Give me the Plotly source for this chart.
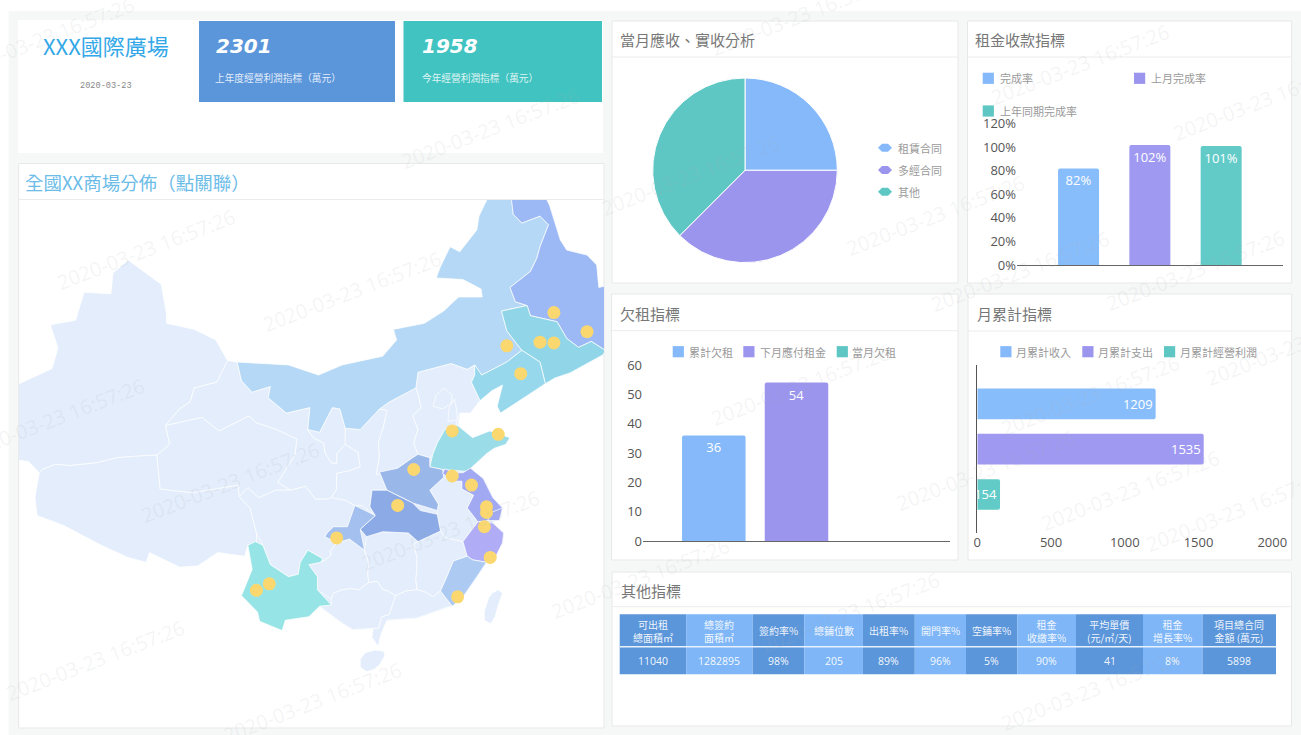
import math
import plotly.graph_objects as go

W, H = 1301, 735
CJK = "Noto Sans CJK TC"
LAT = "Open Sans"

# ---------- data ----------
pie_names = ["租賃合同", "多經合同", "其他"]
pie_values = [25, 37.5, 37.5]

rent_names = ["完成率", "上月完成率", "上年同期完成率"]
rent_values = [82, 102, 101]

arrears_names = ["累計欠租", "下月應付租金", "當月欠租"]
arrears_values = [36, 54, 0]

month_names = ["月累計收入", "月累計支出", "月累計經營利潤"]
month_values = [1209, 1535, 154]

table_headers = ["可出租<br>總面積㎡", "總簽約<br>面積㎡", "簽約率%", "總鋪位數", "出租率%", "開門率%", "空鋪率%",
                 "租金<br>收繳率%", "平均單價<br>(元/㎡/天)", "租金<br>增長率%", "項目總合同<br>金額 (萬元)"]
table_values = ["11040", "1282895", "98%", "205", "89%", "96%", "5%", "90%", "41", "8%", "5898"]

site_dots_lon = [126.8, 129.9, 125.5, 126.8, 122.4, 123.7, 117.3, 121.6, 113.7, 117.3, 119.1,
                 120.5, 120.5, 112.2, 120.3, 120.85, 106.5, 100.2, 99.0, 117.8]
site_dots_lat = [46.1, 44.85, 44.15, 44.1, 43.9, 42.0, 37.9, 37.65, 35.0, 34.5, 33.8,
                 32.1, 31.65, 32.2, 30.5, 28.0, 29.6, 25.8, 25.25, 24.7]

LIGHT = "#e3edfb"
CENTRAL_BASE = [(104.9,23.9),(107.1,22.4),(108,21.9),(109.9,22),(111.2,22.7),(114,22.9),(117.1,23.9),(118.3,24.7),(119.6,26.4),(120.5,27.6),(122,29.2),(122.1,30),
                (121.1,30.8),(122,32),(121.1,32.8),(120.2,34.3),(119,35.1),(120.5,36.2),(120.8,37.8),(119.2,37.4),(117.8,38.3),(118,39.2),(119.9,40.1),(119.1,41.4),
                (117.2,42.6),(114.1,42),(111.4,40),(108.7,38),(104.9,37.8),(102,38.3),(98.3,39),(95.5,37.9),(90.5,38.3),(90,33.5),(97.4,32.9),(98.9,29.3),(100.3,27.4),(102,26.4)]
XINJIANG = [(70,38),(76.85,41.3),(79.9,42.35),(80.45,43.75),(79.75,45.3),(82.1,45.6),(82.9,47.4),(85.4,47.3),(85.6,48.6),(87,49.4),(90.1,47.9),(90.6,46),
            (90.6,45.4),(93.2,45),(95.2,44.3),(96.3,42.9),(95.3,41.4),(93.2,41),(92.8,40),(91.8,39.5),(90.5,38.3),(90.9,36.9),(89.7,36.1),(87.5,36),(86,35.9),
            (84,35.5),(81.5,35.3),(80.2,35.4),(79,35),(78.7,34.75),(77.7,35.6),(76.85,35.7),(70,36)]
TIBET = [(78.7,34.75),(79,35),(80.2,35.4),(81.5,35.3),(84,35.5),(86,35.9),(87.5,36),(89.7,36.1),(90,33.5),(93,33.2),
         (97.3,33.8),(97.4,32.9),(98.4,32),(99,30),(99,29.2),(98.2,29),(97.9,28.1),(95.4,28.4),(93.5,27.3),(91.8,27.2),(89,28.4),(88.7,27.6),(87,28),
         (84.5,29),(81,30.6),(78.5,31.4),(78.3,32.8)]
QINGHAI = [(89.7,36.1),(90.9,36.9),(90.5,38.3),(93.9,38.9),(95.5,37.9),(98.3,39),(99,38.5),(100.9,38),(102.8,37.3),(102.6,36.1),
           (102,35.3),(101,34),(102.2,33.4),(100.8,33.4),(99.2,32.8),(98.2,33.6),(97.4,32.9),(97.3,33.8),(93,33.2),(90,33.5)]
GANSU = [(96.3,42.9),(97.2,42.8),(97.6,41.5),(98.6,40.7),(100.3,41.1),(100.1,40.3),(101.8,39.2),(104,39.6),(103.8,38),(104.3,37.4),
         (105.3,37),(105.4,36.3),(106,35.5),(106.5,35.5),(106.5,36.2),(107.3,36.9),(108.5,36.3),(108.7,35.2),(107.7,34.9),
         (106.5,34.7),(106.5,33.5),(106,32.8),(105.5,32.7),(104.5,32.7),(103.6,33.7),(102.2,33.4),(101,34),(102,35.3),(102.6,36.1),
         (102.8,37.3),(100.9,38),(99,38.5),(98.3,39),(95.5,37.9),(93.9,38.9),(90.5,38.3),(91.8,39.5),(92.8,40),(93.2,41),(95.3,41.4)]
NINGXIA = [(104.3,37.4),(103.8,38),(104.9,37.8),(106.1,39.6),(106.8,39.5),(107.3,38.1),(107.3,36.9),(106.5,36.2),(106.5,35.5),(106,35.5),(105.4,36.3),(105.3,37)]
SHAANXI = [(106.5,33.5),(106.5,34.7),(107.7,34.9),(108.7,35.2),(108.5,36.3),(107.3,36.9),(107.3,38.1),(108.7,38),(110.5,39.5),(111.2,39.4),
           (110.9,38.3),(110.4,37),(110.5,36),(110.2,34.6),(110.5,34.8),(111.2,33.4),(109.8,33.4),(109.6,32.1),(110.1,31.4),
           (108.9,32.2),(108.2,32.2),(107.3,32.6),(106,32.8)]
SHANXI = [(110.2,34.6),(111.2,34.8),(112.2,35.1),(113.6,35.9),(114.1,36.15),(113.7,37),(114.1,38),(113.6,39),(114.4,39.6),(114.1,40.6),
          (113.9,41),(111.4,40),(110.5,39.5),(111.2,39.4),(110.9,38.3),(110.4,37),(110.5,36)]
HEBEI = [(113.9,41),(114.1,42.1),(117.2,42.7),(118.7,42.3),(119.4,42.6),(119.4,41.9),(119.1,41.4),(119.9,40.1),(119,39.2),(118,39.2),(117.7,38.5),
         (117.8,38.3),(116.6,38),(115.9,37),(115.5,36.2),(115.2,35.9),(114.1,36.15),(113.7,37),(114.1,38),(113.6,39),(114.4,39.6),(114.1,40.6)]
BEIJING = [(115.5,39.7),(116.4,39.5),(117.2,39.9),(117.3,40.5),(116.5,41),(115.8,40.5)]
TIANJIN = [(116.9,38.6),(117.8,38.7),(117.7,39.5),(117.5,40.2),(117,39.6)]
SICHUAN = [(97.4,32.9),(98.2,33.6),(99.2,32.8),(100.8,33.4),(102.2,33.4),(103.6,33.7),(104.5,32.7),(105.5,32.7),(106,32.8),(107.3,32.6),(108.4,32.1),
           (108.2,32.2),(107.5,30.5),(106.2,30.5),(105.6,30),(105.4,29.7),(106.5,29.2),(105.9,28.5),(106,28.2),(105.3,27.7),(104.4,27.4),
           (103.9,27.4),(105,27.6),(105.2,27.9),(103.8,28.6),(103.1,27.6),(102.9,26.6),(102,26.4),(100.3,27.4),(99.6,29),(99,30),(98.4,32)]
GUIZHOU = [(103.9,27.4),(104.7,26.4),(104.7,25.3),(106,24.5),(106.2,25),(107,25.3),(107.9,25.4),(108.6,25.3),(109.5,25.9),(109.4,26.7),
           (109.5,27.5),(109.1,28.6),(107.7,29.5),(106.5,29.2),(105.9,28.5),(106,28.2),(105.3,27.7)]
HUNAN = [(109.5,25.9),(110.3,26),(110.8,25.3),(111.3,25.2),(112,24.8),(113,25.2),(114,25.3),(113.9,26.2),(114,27),(114,28),(113.7,29.1),(114.1,29.3),(113.2,30),
         (110.8,30.1),(109.3,29.7),(109.1,28.6),(109.5,27.5),(109.4,26.7)]
JIANGXI = [(114,25.3),(114.8,25.1),(115.5,24.7),(116.2,25.2),(116.8,26.4),(117.4,27.7),(118.7,28.1),(118.3,29.3),(116.7,29.6),(116.2,30.15),(114.1,29.3),
           (113.7,29.1),(114,28),(114,27),(113.9,26.2)]
ANHUI = [(116.4,34.4),(117.4,34.1),(118.2,34.1),(118.2,33.5),(119.3,33),(118.7,32),(119.7,30.9),(118.3,29.3),(116.7,29.6),(116.2,30.15),(115.9,31.5),(115.9,31.8),
         (116,32.3),(115.2,33.4)]
GUANGDONG = [(109.9,22),(109.8,21.2),(110.4,20.4),(110.6,21.4),(111.2,22.7),(114,22.9),(117.1,23.9),(117.3,23.9),(116.2,25.2),(115.5,24.7),(114.8,25.1),(114,25.3),
             (113,25.2),(112,24.8),(111.7,24),(111.4,23.2),(110.7,23),(110.4,22)]
GUANGXI = [(104.9,23.9),(106,24),(106,24.5),(106.2,25),(107,25.3),(107.9,25.4),(108.6,25.3),(109.5,25.9),(110.3,26),(110.8,25.3),(111.3,25.2),
           (112,24.8),(111.7,24),(111.4,23.2),(110.7,23),(110.4,22),(109.9,22),(108,21.9),(107.1,22.4)]
HAINAN = [(108.7,19.3),(109.2,19.9),(110.1,20.1),(110.9,20),(111,19.6),(110.5,18.8),(110,18.4),(109.3,18.2),(108.7,18.6)]
TAIWAN = [(121,25),(121.6,25.3),(122,25),(121.6,24),(121.3,23),(120.9,22.4),(120.3,22.7),(120.3,23.5),(120.7,24.6)]

INNER_MONGOLIA = [(97.2,42.8),(102,42.6),(104.8,41.9),(107,42.6),(110.8,43.2),(112.1,44.3),(111.8,45),(114.7,45.4),(116.5,46.2),(117.9,47.1),(120.1,47.1),
                  (120,47.6),(118.3,48.2),(115.8,48.3),(116.2,49),(117.1,50.2),(118,49.9),(119.6,51.2),(119.8,52),(121,53.5),(123,53.5),(122.9,52.7),(123,52.1),
                  (123.8,51.6),(125.5,52),(126.3,51.5),(125.5,50.2),(125.2,49.5),(124.6,48.7),(122.7,47.7),(123.2,46.8),(124.3,46.55),(123.2,46.4),(121.9,46.2),
                  (122.4,44.9),(123.8,43.6),(122.4,42.8),(120.05,41.9),(119.4,42.6),(118.7,42.3),(117.2,42.7),(114.1,42.1),(113.9,41),(111.4,40),(110.5,39.5),
                  (108.7,38),(107.3,38.1),(106.8,39.5),(106.1,39.6),(104.9,37.8),(103.8,38),(104,39.6),(101.8,39.2),(100.1,40.3),(100.3,41.1),(98.6,40.7),(97.6,41.5)]
HEILONGJIANG = [(122.7,53.6),(125.6,53.6),(126.4,52.6),(127.4,50.6),(128,50),(129.9,49.7),(130.8,49.1),(131,47.7),(134.7,48.3),(133.1,45.1),(131.6,44.8),
                (131.6,43.6),(130.3,44.2),(129.1,43.8),(128,44.4),(127.1,45.5),(124.6,45.9),(124.3,46.55),(123.2,46.8),(122.7,47.7),(124.6,48.7),(125.2,49.5),
                (125.5,50.2),(126.3,51.5),(125.5,52),(123.8,51.6),(123,52.1),(122.9,52.7)]
JILIN = [(121.9,46.2),(123.2,46.4),(124.3,46.55),(124.6,45.9),(127.1,45.5),(128,44.4),(129.1,43.8),(130.3,44.2),(131.6,43.6),(131.4,43.3),(128.3,42.05),
         (126.9,41.7),(126,41.3),(125.5,42.8),(123.8,43.6),(122.4,44.9)]
LIAONING = [(123.8,43.6),(122.4,42.8),(120.05,41.9),(119.4,42.6),(119.4,41.9),(119.1,41.4),(119.9,40.1),(121,40.8),(122,41.2),(121.5,39.7),(121.8,39.2),(126,41.3),(125.5,42.8)]
SHANDONG = [(115.5,36.2),(115.9,37),(116.6,38),(117.8,38.3),(119.2,37.4),(120.8,37.9),(122.7,37.4),(122.3,36.9),(121.2,36.6),(120.5,36.2),(118.7,34.85),(116.4,35),(115.2,35.2)]
HENAN = [(110.5,34.8),(112.2,35.1),(113.6,35.9),(114.1,36.15),(115.2,35.9),(115.2,35.2),(116.4,35),(116.5,34.4),(115.2,33.4),(116,32.3),(115.9,31.8),(113.6,32.4),(111.2,33.4)]
HUBEI = [(109.8,33.4),(111.2,33.4),(113.6,32.4),(114.3,31.8),(115.9,31.5),(116.2,30.15),(114.1,29.3),(113.2,30),(110.8,30.1),(109.3,29.7),(108.7,30.3),(110.1,31.4),(109.6,32.1)]
CHONGQING = [(105.4,29.7),(105.6,30),(106.2,30.5),(107.5,30.5),(108.2,32.2),(110.1,31.4),(108.7,30.3),(109.1,28.6),(107.7,29.5),(106.5,29.2)]
YUNNAN = [(98.2,29),(98.9,29.3),(99.6,29),(100.3,27.4),(102,26.4),(102.9,26.6),(103.1,27.6),(103.8,28.6),(105.2,27.9),(105,27.6),(103.9,27.4),(104.7,26.4),(104.7,25.3),
          (106,24),(104.9,23.9),(103.9,23),(101.7,22.7),(101.4,21.8),(99.3,22.6),(99.1,23.4),(97.6,24.8),(98.6,27)]
JIANGSU = [(116.4,34.7),(116.6,35.05),(117.5,34.75),(118.3,34.75),(119,35.1),(120.2,34.3),(121.1,32.8),(122,32),(120.6,31),(119.7,30.9),(118.7,32),(119.3,33),(118.2,33.5),(118.2,34.1),(117.4,34.1)]
SHANGHAI = [(120.6,31),(121.1,31.7),(122,32),(121.7,31)]
ZHEJIANG = [(119.7,30.9),(118.3,29.3),(118.7,28.1),(119.2,27.8),(120.5,27.6),(121.1,27.6),(122,29.2),(122.1,30),(121.1,30.8)]
FUJIAN = [(118.7,28.1),(117.4,27.7),(116.8,26.4),(116.2,25.2),(117.3,23.9),(118.3,24.7),(119.6,26.4),(120.5,27.6),(119.2,27.8)]

provinces = [
    (CENTRAL_BASE, LIGHT),
    (XINJIANG, LIGHT), (TIBET, LIGHT), (QINGHAI, LIGHT), (GANSU, LIGHT), (NINGXIA, LIGHT), (SHAANXI, LIGHT), (SHANXI, LIGHT),
    (HEBEI, LIGHT), (BEIJING, LIGHT), (TIANJIN, LIGHT), (SICHUAN, LIGHT), (GUIZHOU, LIGHT), (HUNAN, LIGHT), (JIANGXI, LIGHT),
    (ANHUI, LIGHT), (GUANGDONG, LIGHT), (GUANGXI, LIGHT), (HAINAN, LIGHT), (TAIWAN, LIGHT),
    (INNER_MONGOLIA, "#b4d8f5"), (HEILONGJIANG, "#9cb9f5"), (JILIN, "#90d6e8"), (LIAONING, "#97d8ec"), (SHANDONG, "#9adde9"),
    (HENAN, "#9ab7ea"), (HUBEI, "#8caae6"), (CHONGQING, "#a4c0ef"), (YUNNAN, "#97e4e6"), (JIANGSU, "#a0a9f2"), (SHANGHAI, "#a0a9f2"),
    (ZHEJIANG, "#b0acf5"), (FUJIAN, "#adcbf2"),
]

watermarks = [(45,38),(146,250),(352,292),(490,128),(55,418),(230,482),(450,530),(95,660),(312,702),(690,175),(935,215),(1080,65),
              (1262,100),(800,15),(1195,270),(800,385),(640,578),(1020,272),(1130,490),(1235,512),(1090,395),(850,612),(1090,690),(985,470),(1295,345)]

# ---------- helpers ----------
def mx(x): return x / W
def my(y): return 1 - y / H
def merc(lat): return math.degrees(math.log(math.tan(math.radians(45 + lat / 2))))

shapes, annos = [], []
def rect(x0, y0, x1, y1, fill, line=None, layer="below"):
    shapes.append(dict(type="rect", xref="paper", yref="paper", x0=mx(x0), x1=mx(x1), y0=my(y0), y1=my(y1), fillcolor=fill,
                       line=dict(color=line or fill, width=1 if line else 0), layer=layer))
def hline(x0, x1, y, color="#ececec"):
    shapes.append(dict(type="line", xref="paper", yref="paper", x0=mx(x0), x1=mx(x1), y0=my(y), y1=my(y), line=dict(color=color, width=1), layer="below"))
def text(x, y, s, size=12, color="#666", font=CJK, anchor="left", **kw):
    annos.append(dict(xref="paper", yref="paper", x=mx(x), y=my(y), text=s, showarrow=False, xanchor=anchor, yanchor="middle",
                      font=dict(family=font, size=size, color=color), **kw))
def card(x0, y0, x1, y1, title, tx, ty, divider, size=15, color="#777777"):
    rect(x0, y0, x1, y1, "#ffffff", "#e8e8e8")
    hline(x0, x1, divider)
    text(tx - 2, ty, title, size, color)
def swatch_legend(names, xs_sw, xs_tx, ys, colors):
    for n, xs, xt, y, c in zip(names, xs_sw, xs_tx, ys, colors):
        rect(xs, y - 5.6, xs + 11.2, y + 5.6, c)
        text(xt, y, n, 11, "#9a9a9a")

BLUE, PURPLE, TEAL = "#85b9fa", "#9b95ee", "#5fc7c3"
BAR = ["#88bdfb", "#9f99f2", "#62cbc8"]

# ---------- page ----------
rect(8.6, 11, W + 2, H + 2, "#f6f8f8")
rect(18, 20, 603, 153, "#ffffff")
rect(199, 21, 395, 102, "#5b96db")
rect(403.5, 21, 602, 102, "#41c4c1")
text(106, 45, "XXX國際廣場", 22, "#33a8e8", anchor="center")
text(106, 86, "2020-03-23", 8.6, "#888888", "Liberation Mono", anchor="center")
text(214, 45.5, "<b><i>2301</i></b>", 20, "#ffffff", "DejaVu Sans")
text(420, 45.5, "<b><i>1958</i></b>", 20, "#ffffff", "DejaVu Sans")
text(213, 77.5, "上年度經營利潤指標（萬元）", 9.7, "rgba(255,255,255,0.85)")
text(419.5, 77.5, "今年經營利潤指標（萬元）", 9.7, "rgba(255,255,255,0.85)")

card(18.7, 163.5, 604, 728, "全國XX商場分佈（點關聯）", 25, 182, 199.5, 18.5, "#6cbce8")
card(612, 21, 958, 283, "當月應收、實收分析", 620, 40, 57)
card(967.5, 21, 1291.7, 283, "租金收款指標", 975, 40, 57)
card(611.5, 294, 958, 560, "欠租指標", 620, 313, 330.7)
card(968, 294, 1291.7, 560, "月累計指標", 976.7, 313, 331)
card(612, 572, 1291.5, 726, "其他指標", 621, 590, 606.7)

fig = go.Figure()

# ---------- map ----------
SCALE = 10.7
map_x = (19, 604)
map_y = (200, 727)
lon_range = [109.8 + (map_x[0] - 372) / SCALE, 109.8 + (map_x[1] - 372) / SCALE]
y_range = [19.6 + (660 - map_y[1]) / SCALE, 19.6 + (660 - map_y[0]) / SCALE]
for poly, col in provinces:
    xs = [p[0] for p in poly] + [poly[0][0]]
    ys = [merc(p[1]) for p in poly] + [merc(poly[0][1])]
    line_col = col if poly is CENTRAL_BASE else "rgba(255,255,255,0.9)"
    fig.add_trace(go.Scatter(x=xs, y=ys, mode="lines", fill="toself", fillcolor=col, line=dict(color=line_col, width=0.8),
                             hoverinfo="skip", showlegend=False, xaxis="x", yaxis="y"))
fig.add_trace(go.Scatter(x=site_dots_lon, y=[merc(v) for v in site_dots_lat], mode="markers", marker=dict(size=13, color="#fbd86f"),
                         hoverinfo="skip", showlegend=False, xaxis="x", yaxis="y"))

# ---------- pie ----------
cx, cy, r = 745, 170.3, 92.3
fig.add_trace(go.Pie(labels=pie_names, values=pie_values, sort=False, direction="clockwise", rotation=0, textinfo="none",
                     marker=dict(colors=[BLUE, PURPLE, TEAL], line=dict(color="#ffffff", width=1)), showlegend=False,
                     domain=dict(x=[mx(cx - r), mx(cx + r)], y=[my(cy + r), my(cy - r)])))
for n, y, c in zip(pie_names, [147.7, 170, 191.7], [BLUE, PURPLE, TEAL]):
    shapes.append(dict(type="path", xref="paper", yref="paper", layer="below", fillcolor=c, line=dict(width=0),
                       path=f"M {mx(878)} {my(y)} L {mx(882)} {my(y-4)} L {mx(888)} {my(y-4)} L {mx(892)} {my(y)} L {mx(888)} {my(y+4)} L {mx(882)} {my(y+4)} Z"))
    text(896, y, n, 11, "#9a9a9a")

# ---------- bars ----------
def bar_geom(w_px, step_px, axis_px):
    w = w_px / axis_px
    return w, [(i - 1) * step_px / axis_px - w / 2 for i in range(3)]

common = dict(textposition="inside", insidetextanchor="end", textangle=0, constraintext="none", showlegend=False, hoverinfo="skip",
              textfont=dict(color="#ffffff", size=13, family=LAT))
w, offs = bar_geom(41, 71.3, 265.7)
for n, v, c, o in zip(rent_names, rent_values, BAR, offs):
    fig.add_trace(go.Bar(x=[""], y=[v], name=n, width=w, offset=o, marker=dict(color=c, line=dict(width=0)), text=[f"{v}%"],
                         xaxis="x2", yaxis="y2", **common))
w, offs = bar_geom(63.5, 82.7, 307)
for n, v, c, o in zip(arrears_names, arrears_values, [BLUE, PURPLE, TEAL], offs):
    fig.add_trace(go.Bar(x=[""], y=[v], name=n, width=w, offset=o, marker=dict(color=c, line=dict(width=0)), text=[str(v) if v else ""],
                         xaxis="x3", yaxis="y3", **common))
w, offs = bar_geom(30.6, 45.3, 168.3)
for n, v, c, o in zip(month_names, month_values, BAR, offs):
    fig.add_trace(go.Bar(x=[v], y=[""], name=n, orientation="h", width=w, offset=o, marker=dict(color=c, line=dict(width=0)), text=[str(v)],
                         xaxis="x4", yaxis="y4", **common))

swatch_legend(rent_names, [982.7, 1134, 982.7], [998, 1149, 998], [78.3, 78.3, 111], [BLUE, PURPLE, TEAL])
swatch_legend(arrears_names, [672.7, 743.3, 836.7], [687, 757.5, 850], [351.7] * 3, [BLUE, PURPLE, TEAL])
swatch_legend(month_names, [1000.3, 1082.3, 1164], [1014, 1096, 1178], [351.7] * 3, [BLUE, PURPLE, TEAL])

# ---------- table ----------
col_edges = [619.7, 686.2, 752.7, 804.3, 862.9, 914.8, 966, 1017.5, 1076, 1143, 1202.5, 1276]
for i, (h, v) in enumerate(zip(table_headers, table_values)):
    a, b = col_edges[i], col_edges[i + 1]
    rect(a, 614.3, b, 674.3, "#5b96db" if i % 2 == 0 else "#7eb6f7")
    text((a + b) / 2, 630.5, h, 10, "rgba(255,255,255,0.92)", anchor="center")
    text((a + b) / 2, 661, v, 10.5, "rgba(255,255,255,0.95)", LAT, anchor="center")
rect(619.7, 646, 1276, 647.6, "#e8f1fc")

# ---------- watermarks ----------
for x, y in watermarks:
    text(x, y, "2020-03-23 16:57:26", 20, "rgba(170,170,175,0.13)", LAT, anchor="center", textangle=-21)

axis_font = dict(family=LAT, size=13, color="#555555")
hidden = dict(visible=False, fixedrange=True)
layout = dict(
    width=W, height=H, autosize=False, margin=dict(l=0, r=0, t=0, b=0, autoexpand=False), paper_bgcolor="#ffffff", plot_bgcolor="rgba(0,0,0,0)",
    barmode="overlay", barcornerradius=2, showlegend=False, shapes=shapes, annotations=annos,
    xaxis=dict(domain=[mx(map_x[0]), mx(map_x[1])], range=lon_range, anchor="y", **hidden),
    yaxis=dict(domain=[my(map_y[1]), my(map_y[0])], range=y_range, anchor="x", **hidden),
    xaxis2=dict(domain=[mx(1017), mx(1282.7)], anchor="y2", range=[-0.5, 0.5], showticklabels=False, ticks="", showline=True, linecolor="#666666", linewidth=1, showgrid=False),
    yaxis2=dict(domain=[my(265), my(123.7)], anchor="x2", range=[0, 120], dtick=20, ticksuffix="%", tickfont=axis_font, ticks="", showgrid=False, zeroline=False),
    xaxis3=dict(domain=[mx(643), mx(950)], anchor="y3", range=[-0.5, 0.5], showticklabels=False, ticks="", showline=True, linecolor="#666666", linewidth=1, showgrid=False),
    yaxis3=dict(domain=[my(541), my(365)], anchor="x3", range=[0, 60], dtick=10, tickfont=axis_font, ticks="", showgrid=False, zeroline=False),
    xaxis4=dict(domain=[mx(977.3), mx(1272.3)], anchor="y4", range=[0, 2000], dtick=500, tickfont=axis_font, ticks="", showgrid=False, zeroline=False),
    yaxis4=dict(domain=[my(533.3), my(365)], anchor="x4", range=[0.5, -0.5], showticklabels=False, ticks="", showline=True, linecolor="#555555", linewidth=1, showgrid=False),
)
fig.update_layout(**layout)
fig.write_html("out.html", config=dict(displayModeBar=False),
               post_script="document.body.style.margin='0';document.body.style.overflow='hidden';")
